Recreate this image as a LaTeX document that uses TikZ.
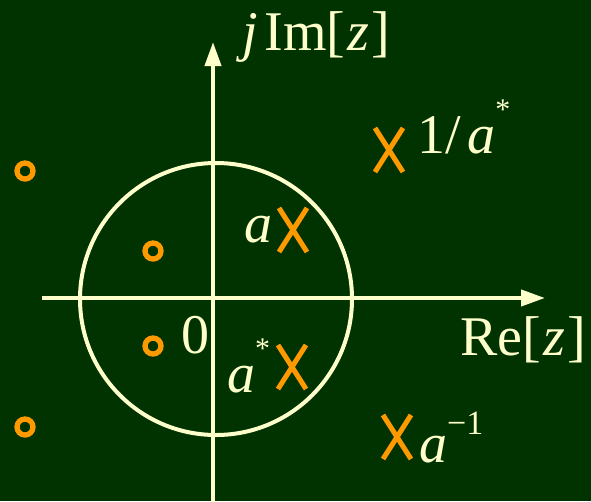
\documentclass[tikz,border=0pt]{standalone}
\usepackage{fontspec}
\setmainfont{Liberation Serif}
\usetikzlibrary{arrows.meta}
\definecolor{bg}{HTML}{003300}
\definecolor{cream}{HTML}{FFFFCC}
\definecolor{orng}{HTML}{FF9900}
\newcommand{\supast}{\raisebox{0.6em}{\fontsize{30}{30}\selectfont *}}
\begin{document}
\begin{tikzpicture}[x=1pt,y=-1pt,
  axis/.style={draw=cream, line width=4pt, -{Triangle[length=24pt,width=16pt]}},
  unitcirc/.style={draw=cream, line width=4pt},
  lbl/.style={text=cream, font=\fontsize{56}{60}\selectfont, inner sep=0pt},
  zeromark/.style={circle, draw=orng, line width=5.3pt, minimum size=16pt, inner sep=0pt},
  polex/.pic={\draw[orng, line width=5pt] (-14,-22) -- (14,22) (-14,22) -- (14,-22);}]
\fill[bg] (0,0) rectangle (591,501);
\useasboundingbox (0,0) rectangle (591,501);
% axes
\coordinate (xl) at (42,298);
\coordinate (xr) at (545,298);
\coordinate (yb) at (213,505);
\coordinate (yt) at (213,42);
\draw[axis] (xl) -- (xr);
\draw[axis] (yb) -- (yt);
% unit circle
\coordinate (o) at (216,299);
\draw[unitcirc] (o) circle[radius=136];
% zeros
\node[zeromark] (z1) at (25,171) {};
\node[zeromark] (z2) at (153,251) {};
\node[zeromark] (z3) at (153,346) {};
\node[zeromark] (z4) at (25,427) {};
% poles
\pic at (293,230) {polex};
\pic at (292,367) {polex};
\pic at (389,150) {polex};
\pic at (397,437) {polex};
% labels
\node[lbl, anchor=base west] (im) at (242,50) {\textit{j}\kern0.12em Im[\kern0.04em\textit{z}\kern0.04em]};
\node[lbl, anchor=base west] (re) at (460,355) {Re[\kern0.04em\textit{z}\kern0.04em]};
\node[lbl, anchor=base west] (ia) at (417,153) {1/\kern0.12em\textit{a}\supast};
\node[lbl, anchor=base west] (a) at (244,242) {\textit{a}};
\node[lbl, anchor=base west] (zero) at (181,353) {0};
\node[lbl, anchor=base west] (as) at (227,392) {\textit{a}\supast};
\node[lbl, anchor=base west] (ainv) at (419,462) {\textit{a}\raisebox{0.5em}{\fontsize{34}{34}\selectfont −1}};
\end{tikzpicture}
\end{document}
